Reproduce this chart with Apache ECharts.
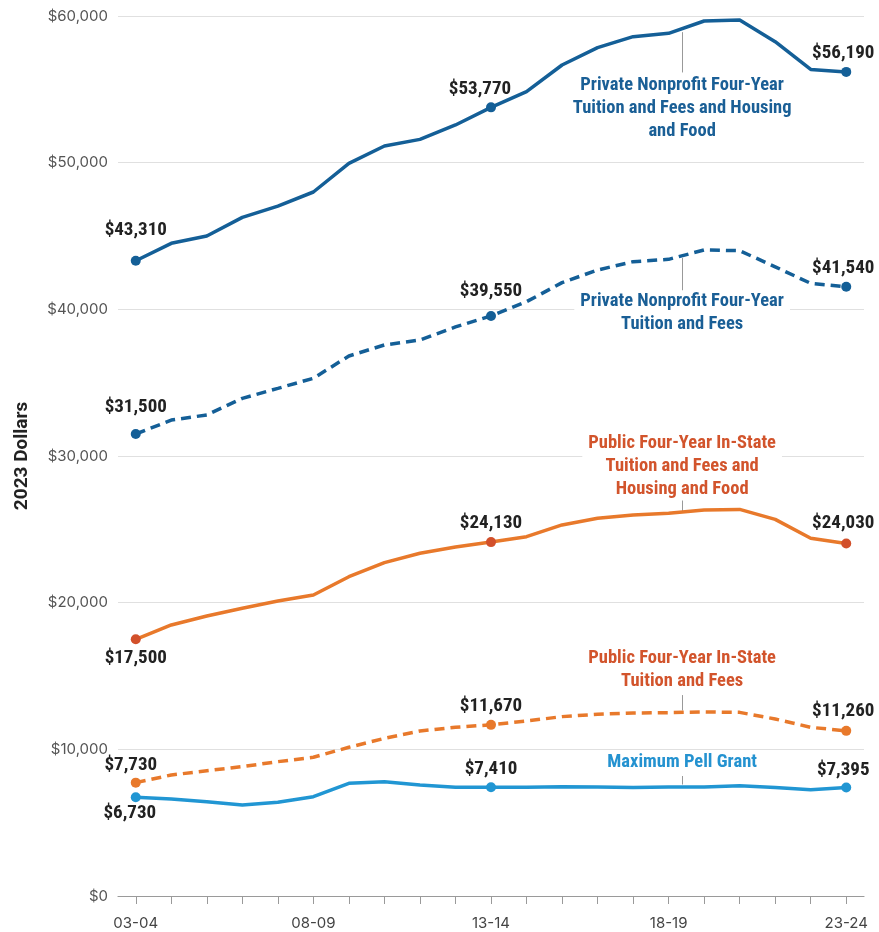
<!DOCTYPE html>
<html>
<head>
<meta charset="utf-8">
<script src="https://cdn.jsdelivr.net/npm/echarts@6/dist/echarts.min.js"></script>
<style>
html,body{margin:0;padding:0;background:#fff;}
#chart{width:879px;height:932px;}
</style>
</head>
<body>
<div id="chart"></div>
<script>
const years = ['03-04','04-05','05-06','06-07','07-08','08-09','09-10','10-11','11-12','12-13','13-14','14-15','15-16','16-17','17-18','18-19','19-20','20-21','21-22','22-23','23-24'];
const privateHousing = [43310, 44500, 45000, 46270, 47040, 48000, 49950, 51140, 51590, 52570, 53770, 54840, 56660, 57840, 58590, 58820, 59660, 59730, 58250, 56360, 56190];
const privateTuition = [31500, 32450, 32800, 33930, 34610, 35300, 36820, 37570, 37910, 38800, 39550, 40520, 41820, 42680, 43250, 43410, 44050, 44000, 42900, 41770, 41540];
const publicHousing = [17500, 18480, 19090, 19620, 20110, 20520, 21770, 22730, 23370, 23800, 24130, 24500, 25300, 25750, 25980, 26090, 26320, 26360, 25680, 24390, 24030];
const publicTuition = [7730, 8250, 8540, 8820, 9160, 9460, 10140, 10750, 11250, 11500, 11670, 11930, 12230, 12390, 12480, 12500, 12550, 12520, 12070, 11500, 11260];
const pellMax = [6730, 6610, 6430, 6200, 6390, 6770, 7680, 7790, 7570, 7420, 7410, 7410, 7450, 7430, 7400, 7430, 7440, 7520, 7400, 7250, 7395];
const yTicks = [0, 10000, 20000, 30000, 40000, 50000, 60000];
const seriesNames = [
  'Private Nonprofit Four-Year\nTuition and Fees and Housing\nand Food',
  'Private Nonprofit Four-Year\nTuition and Fees',
  'Public Four-Year In-State\nTuition and Fees and\nHousing and Food',
  'Public Four-Year In-State\nTuition and Fees',
  'Maximum Pell Grant'
];
const markedIdx = [0, 10, 20];

const BLUE = '#145f97', ORANGE = '#e8792b', RED = '#d2502b', PELL = '#2196d3';
const NARROW = "'Roboto Condensed', Roboto, sans-serif";
const fmt = v => '$' + v.toLocaleString('en-US');

function lineSeries(values, color, markerColor, dashed, offsets) {
  return {
    type: 'line',
    xAxisIndex: 0, yAxisIndex: 0,
    data: values.map((v, i) => {
      const k = markedIdx.indexOf(i);
      if (k < 0) return { value: v, symbol: 'none' };
      return {
        value: v, symbol: 'circle', symbolSize: 10,
        itemStyle: { color: markerColor },
        label: { show: true, position: 'inside', offset: offsets[k], formatter: p => fmt(p.value),
          color: '#222', fontFamily: NARROW, fontWeight: 'bold', fontSize: 19 }
      };
    }),
    lineStyle: { color: color, width: 3.5, type: dashed ? [10, 6] : 'solid', cap: 'butt' },
    itemStyle: { color: markerColor },
    showSymbol: true,
    z: 3,
    animation: false
  };
}

const ANN_X = 15.38;
const annotations = [
  { text: seriesNames[0], y: 53706, color: '#1a5f96', lead: [58900, 56150] },
  { text: seriesNames[1], y: 39730, color: '#1a5f96', lead: [43500, 41250] },
  { text: seriesNames[2], y: 29320, color: '#d2542c', lead: [27140, 26250] },
  { text: seriesNames[3], y: 15390, color: '#d2542c', lead: [13700, 12650] },
  { text: seriesNames[4], y: 9090, color: '#2492d0', lead: [8180, 7600] }
];

const chart = echarts.init(document.getElementById('chart'), null, { renderer: 'canvas' });
chart.setOption({
  animation: false,
  backgroundColor: '#fff',
  grid: { left: 118, right: 15, top: 16, bottom: 36, containLabel: false },
  xAxis: [
    {
      type: 'category', data: years, boundaryGap: true,
      axisLine: { lineStyle: { color: '#9a9a9a', width: 1.2 } },
      axisTick: { show: true, alignWithLabel: true, interval: 0, length: 8, lineStyle: { color: '#9a9a9a' } },
      axisLabel: { interval: 4, color: '#444', fontSize: 15, fontFamily: 'Inter, Roboto, sans-serif', margin: 20 },
      splitLine: { show: false }
    },
    {
      type: 'value', min: -0.5, max: 20.5, show: false,
      axisLine: { show: false }, axisTick: { show: false }, axisLabel: { show: false }, splitLine: { show: false }
    }
  ],
  yAxis: {
    type: 'value', min: yTicks[0], max: yTicks[yTicks.length - 1], interval: yTicks[1] - yTicks[0],
    name: '2023 Dollars', nameLocation: 'middle', nameRotate: 90, nameGap: 86,
    nameTextStyle: { color: '#222', fontWeight: 'bold', fontSize: 19, fontFamily: 'Roboto, sans-serif' },
    axisLine: { show: false }, axisTick: { show: false },
    axisLabel: { color: '#555', fontSize: 15, fontFamily: 'Inter, Roboto, sans-serif', margin: 10, formatter: v => fmt(v) },
    splitLine: { lineStyle: { color: '#e0e0e0', width: 1.2 } }
  },
  series: [
    lineSeries(privateHousing, BLUE, BLUE, false, [[0, -31], [-11, -18], [-3, -19]]),
    lineSeries(privateTuition, BLUE, BLUE, true, [[0, -27], [0, -25], [-3, -18]]),
    lineSeries(publicHousing, ORANGE, RED, false, [[0, 19], [0, -19], [-3, -20]]),
    lineSeries(publicTuition, ORANGE, ORANGE, true, [[-5, -17], [0, -19], [-3, -20]]),
    lineSeries(pellMax, PELL, PELL, false, [[-6, 16], [0, -18], [-3, -17]]),
    {
      type: 'lines', coordinateSystem: 'cartesian2d', xAxisIndex: 1, yAxisIndex: 0,
      data: annotations.map(a => ({ coords: [[ANN_X, a.lead[0]], [ANN_X, a.lead[1]]] })),
      lineStyle: { color: '#999', width: 1, opacity: 1 },
      symbol: 'none', z: 2, animation: false, silent: true
    },
    {
      type: 'scatter', xAxisIndex: 1, yAxisIndex: 0,
      symbol: 'circle', symbolSize: 1, itemStyle: { color: 'rgba(0,0,0,0)', opacity: 1 },
      data: annotations.map(a => ({
        value: [ANN_X, a.y],
        label: { show: true, position: 'inside', formatter: a.text, color: a.color,
          fontFamily: NARROW, fontWeight: 'bold', fontSize: 18.5, lineHeight: 23, align: 'center',
          backgroundColor: '#fff', padding: [0, 6], opacity: 1 }
      })),
      z: 4, animation: false, silent: true
    }
  ]
});
</script>
</body>
</html>
